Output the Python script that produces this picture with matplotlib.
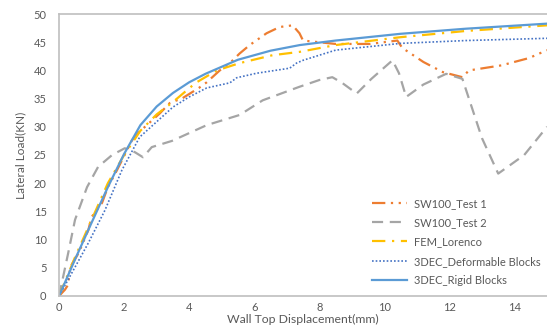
import matplotlib
matplotlib.use("Agg")
import matplotlib.pyplot as plt

plt.rcParams['font.family'] = ['Lato', 'DejaVu Sans']

test1_x = [0, 0.18, 0.28, 0.34, 0.6, 0.9, 1.0, 1.32, 1.5, 1.78, 2.24, 2.43, 3.1, 3.4, 3.8, 4.3, 4.54, 4.94, 5.25, 5.55, 5.86, 6.38, 6.78, 7.18, 7.39, 7.5, 8.5, 9.55, 10.4, 10.55, 11.2, 11.8, 12.4, 12.6, 13.6, 14.45, 15.0]
test1_y = [0, 1.1, 2.0, 5.1, 7.6, 11.7, 14.0, 16.5, 19.3, 22.3, 27.6, 28.9, 32.4, 34.2, 35.1, 36.9, 37.9, 40.0, 41.3, 43.0, 44.5, 46.6, 47.7, 48.0, 46.6, 45.3, 44.7, 44.7, 45.3, 44.0, 41.5, 39.7, 38.8, 40.0, 40.9, 42.2, 43.6]

test2_x = [0, 0.28, 0.49, 0.86, 1.2, 1.63, 2.02, 2.33, 2.58, 2.85, 3.47, 4.54, 5.55, 6.26, 7.39, 8.0, 8.4, 8.7, 9.15, 9.6, 10.25, 10.45, 10.67, 11.2, 11.9, 12.4, 13.0, 13.5, 14.3, 15.0]
test2_y = [0, 7.6, 13.5, 19.3, 22.9, 25.0, 26.2, 25.5, 24.6, 26.4, 27.5, 30.3, 32.1, 34.7, 37.1, 38.3, 38.8, 37.8, 35.9, 38.5, 41.8, 39.5, 35.3, 37.5, 39.4, 38.5, 28.0, 21.7, 25.0, 30.0]

fem_x = [0, 0.5, 1.0, 1.5, 2.0, 2.5, 3.0, 3.5, 4.2, 4.85, 5.55, 6.56, 7.4, 8.5, 10.5, 12.5, 15.0]
fem_y = [0, 7.0, 13.5, 20.0, 25.0, 29.3, 32.2, 34.4, 37.8, 40.0, 41.3, 42.7, 43.3, 44.5, 45.9, 47.0, 48.0]

deform_x = [0, 0.49, 0.9, 1.41, 1.93, 2.48, 2.79, 3.5, 4.0, 4.54, 5.25, 5.46, 6.07, 7.09, 7.3, 7.5, 8.5, 10.5, 12.5, 15.0]
deform_y = [0, 5.1, 9.4, 15.2, 22.3, 28.2, 29.8, 33.5, 35.3, 36.9, 37.8, 38.7, 39.5, 40.4, 41.3, 41.8, 43.6, 44.8, 45.3, 45.7]

rigid_x = [0, 0.5, 1.0, 1.5, 2.0, 2.5, 3.0, 3.5, 4.0, 4.5, 5.5, 6.5, 7.4, 8.5, 10.5, 12.5, 15.0]
rigid_y = [0, 6.6, 13.0, 19.3, 25.2, 30.3, 33.6, 36.0, 37.9, 39.4, 41.9, 43.5, 44.5, 45.3, 46.5, 47.4, 48.3]

x_ticks = [0, 2, 4, 6, 8, 10, 12, 14]
y_ticks = [0, 5, 10, 15, 20, 25, 30, 35, 40, 45, 50]

fig = plt.figure(figsize=(5.47, 3.27), dpi=100)
ax = fig.add_axes([0.108, 0.095, 0.892, 0.862])

kw = dict(solid_joinstyle='round', dash_joinstyle='round')
ax.plot(test1_x, test1_y, color='#ED7D31', lw=1.6, dashes=[6, 2.5, 1, 2.5, 1, 2.5], label='SW100_Test 1', **kw)
ax.plot(test2_x, test2_y, color='#A5A5A5', lw=1.6, dashes=[5, 3], label='SW100_Test 2', **kw)
ax.plot(fem_x, fem_y, color='#FFC000', lw=1.6, dashes=[6, 3, 1, 3], label='FEM_Lorenco', **kw)
ax.plot(deform_x, deform_y, color='#4472C4', lw=1.2, dashes=[1, 1.2], label='3DEC_Deformable Blocks', **kw)
ax.plot(rigid_x, rigid_y, color='#5B9BD5', lw=1.6, label='3DEC_Rigid Blocks', **kw)

ax.set_xlim(0, 15)
ax.set_ylim(0, 50)
ax.set_xticks(x_ticks)
ax.set_yticks(y_ticks)
for s in ['left', 'bottom', 'top']:
    ax.spines[s].set_color('#BFBFBF')
    ax.spines[s].set_linewidth(1.2)
ax.spines['right'].set_visible(False)
ax.tick_params(length=0, colors='#595959', labelsize=8)
ax.tick_params(axis='x', pad=4.5)
ax.tick_params(axis='y', pad=9)

ax.set_ylabel('Lateral Load(KN)', color='#595959', fontsize=8.5, labelpad=5)
ax.set_xlabel('Wall Top Displacement(mm)', color='#595959', fontsize=8.8, labelpad=0.5)

leg = ax.legend(loc='lower left', bbox_to_anchor=(0.62, 0.0), frameon=False, fontsize=8,
                labelcolor='#595959', handlelength=3.2, handletextpad=0.6, labelspacing=0.75)

fig.savefig('out.png', dpi=100)
